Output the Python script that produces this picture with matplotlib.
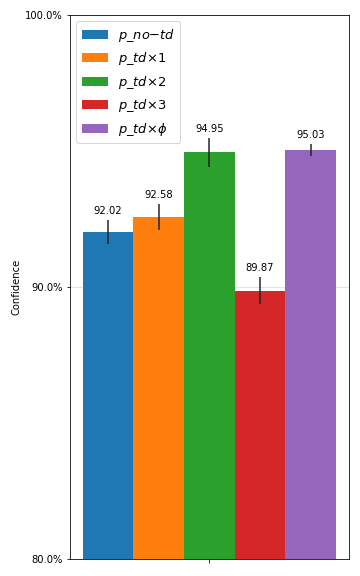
"""
confidence bars for the td variants
"""

import matplotlib
matplotlib.use("Agg")
import matplotlib.pyplot as plt
from matplotlib.ticker import FuncFormatter

# data
labels = [r'$p\_no{-}td$', r'$p\_td{\times}1$', r'$p\_td{\times}2$',
          r'$p\_td{\times}3$', r'$p\_td{\times}\phi$']
means = [92.02, 92.58, 94.95, 89.87, 95.03]
errors = [0.43, 0.48, 0.53, 0.50, 0.22]
colors = ['#1f77b4', '#ff7f0e', '#2ca02c', '#d62728', '#9467bd']

fig = plt.figure(figsize=(5, 8), dpi=72)
ax = fig.add_axes([0.194, 0.0295, 0.775, 0.9445])

width = 0.2
n = len(means)
for i in range(n):
    x = (i - (n - 1) / 2) * width
    ax.bar(x, means[i], width, yerr=errors[i], color=colors[i], label=labels[i],
           error_kw=dict(ecolor='#222222', elinewidth=1.5, capsize=0))
    ax.text(x, means[i] + errors[i] + 0.15, '%.2f' % means[i],
            ha='center', va='bottom', fontsize=10)

ax.set_ylim(80, 100)
ax.set_yticks([80, 90, 100])
ax.yaxis.set_major_formatter(FuncFormatter(lambda v, p: '%.1f%%' % v))
ax.set_xticks([0])
ax.set_xticklabels([''])
ax.yaxis.grid(True, color='#dddddd', linewidth=0.8)
ax.set_axisbelow(True)
ax.set_ylabel('Confidence', fontsize=10)
ax.legend(loc='upper left', fontsize=13)

fig.savefig('out.png', dpi=72)
